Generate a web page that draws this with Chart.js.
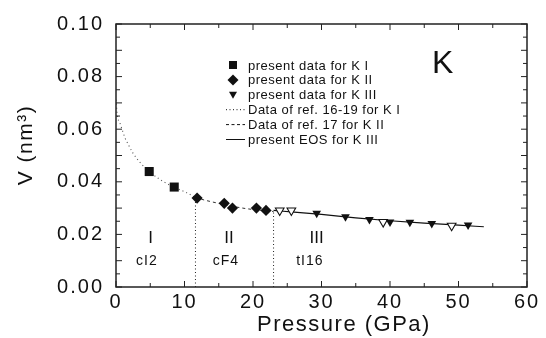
<!DOCTYPE html>
<html><head><meta charset="utf-8">
<script src="https://cdn.jsdelivr.net/npm/chart.js@4"></script>
<style>html,body{margin:0;padding:0;background:#fff}#wrap{width:546px;height:338px}</style>
</head><body><div id="wrap"><canvas id="c" width="546" height="338"></canvas></div>
<script>
// ---- data (pressure in GPa, volume in nm^3) ----
const k1P = [4.85, 8.5];
const k1V = [0.0439, 0.0380];
const k2P = [11.84, 15.8, 17.0, 20.5, 21.9];
const k2V = [0.0338, 0.0318, 0.0300, 0.0300, 0.0291];
const k3P = [29.3, 33.5, 37.0, 40.0, 42.9, 46.1, 51.4];
const k3V = [0.0280, 0.0267, 0.0257, 0.0247, 0.0246, 0.0241, 0.0236];
const k3OpenP = [23.9, 25.6, 39.0, 49.0];
const k3OpenV = [0.0291, 0.0291, 0.0247, 0.0233];
const ref1P = [0, 0.19, 0.58, 0.98, 1.31, 1.79, 2.43, 3.5, 4.85, 6.41, 8.5, 10.54, 11.6];
const ref1V = [0.0712, 0.0654, 0.0623, 0.0592, 0.0567, 0.0542, 0.0511, 0.0474, 0.0439, 0.0409, 0.0379, 0.0356, 0.0340];
const ref2P = [11.6, 13, 15, 17, 19, 21, 23];
const ref2V = [0.0340, 0.0330, 0.0318, 0.0307, 0.0298, 0.0292, 0.0287];
const eosP = [23, 26, 30, 35, 40, 45, 50, 53.7];
const eosV = [0.0291, 0.0285, 0.0276, 0.0263, 0.0252, 0.0243, 0.0235, 0.0229];
const boundaryP = [11.6, 23.0];
const boundaryTopV = [0.0335, 0.0290];
const xTickLabels = [0, 10, 20, 30, 40, 50, 60];
const yTickLabels = [0.00, 0.02, 0.04, 0.06, 0.08, 0.10];
const legendLabels = ['present data for K I', 'present data for K II', 'present data for K III',
  'Data of ref. 16-19 for K I', 'Data of ref. 17 for K II', 'present EOS for K III'];
const phaseTexts = ['I', 'cI2', 'II', 'cF4', 'III', 'tI16', 'K'];
const phaseTextP = [5.05, 4.5, 16.5, 16.05, 29.3, 28.3, 47.7];
const phaseTextV = [0.0185, 0.0097, 0.0185, 0.0097, 0.0185, 0.0097, 0.0847];

const pts = (xs, ys) => xs.map((x, i) => ({x, y: ys[i]}));
const FONT = '"Liberation Sans", Arial, Helvetica, sans-serif';
const INK = '#111';

const datasets = [
  {label: legendLabels[0], data: pts(k1P, k1V), pointStyle: 'rect', pointRadius: 6.4, backgroundColor: INK, borderColor: INK, borderWidth: 0, showLine: false, order: 1},
  {label: legendLabels[1], data: pts(k2P, k2V), pointStyle: 'rectRot', pointRadius: 5.6, backgroundColor: INK, borderColor: INK, borderWidth: 0, showLine: false, order: 1},
  {label: legendLabels[2], data: pts(k3P, k3V), pointStyle: 'triangle', pointRotation: 180, pointRadius: 5, backgroundColor: INK, borderColor: INK, borderWidth: 0, showLine: false, order: 1},
  {label: 'open', data: pts(k3OpenP, k3OpenV), pointStyle: 'triangle', pointRotation: 180, pointRadius: 5, backgroundColor: '#fff', borderColor: INK, borderWidth: 1.1, showLine: false, order: 1},
  {label: legendLabels[3], data: pts(ref1P, ref1V), showLine: true, pointRadius: 0, borderColor: '#555', borderWidth: 1.1, borderDash: [1, 3], cubicInterpolationMode: 'monotone', order: 2},
  {label: legendLabels[4], data: pts(ref2P, ref2V), showLine: true, pointRadius: 0, borderColor: '#333', borderWidth: 1, borderDash: [3, 3], cubicInterpolationMode: 'monotone', order: 2},
  {label: legendLabels[5], data: pts(eosP, eosV), showLine: true, pointRadius: 0, borderColor: INK, borderWidth: 1.2, cubicInterpolationMode: 'monotone', order: 2},
  ...boundaryP.map((p, i) => ({label: 'boundary' + i, data: [{x: p, y: 0}, {x: p, y: boundaryTopV[i]}], showLine: true, pointRadius: 0, borderColor: '#222', borderWidth: 1, borderDash: [1, 2.5], order: 2}))
];

function drawMarker(ctx, kind, x, y) {
  ctx.beginPath();
  if (kind === 0) { ctx.rect(x - 4, y - 4, 8, 8); }
  else if (kind === 1) { ctx.moveTo(x, y - 5.5); ctx.lineTo(x + 5.5, y); ctx.lineTo(x, y + 5.5); ctx.lineTo(x - 5.5, y); ctx.closePath(); }
  else { ctx.moveTo(x - 4, y - 3); ctx.lineTo(x + 4, y - 3); ctx.lineTo(x, y + 4); ctx.closePath(); }
  ctx.fillStyle = INK; ctx.fill();
}

const deco = {
  id: 'deco',
  beforeDraw(chart) { chart.ctx.letterSpacing = '2px'; },
  afterDraw(chart) {
    const {ctx, chartArea: a, scales: {x, y}} = chart;
    ctx.save();
    ctx.letterSpacing = '0px';
    // frame
    ctx.strokeStyle = '#222'; ctx.lineWidth = 1.5;
    ctx.strokeRect(a.left, a.top, a.right - a.left, a.bottom - a.top);
    // inward ticks on all sides
    ctx.lineWidth = 1;
    x.ticks.forEach(t => {
      const px = x.getPixelForValue(t.value);
      const L = Math.round(t.value) % 10 === 0 ? 6 : 4;
      ctx.beginPath(); ctx.moveTo(px, a.bottom); ctx.lineTo(px, a.bottom - L);
      ctx.moveTo(px, a.top); ctx.lineTo(px, a.top + L); ctx.stroke();
    });
    y.ticks.forEach(t => {
      const py = y.getPixelForValue(t.value);
      const L = Math.round(t.value * 1000) % 10 === 0 ? 6 : 4;
      ctx.beginPath(); ctx.moveTo(a.left, py); ctx.lineTo(a.left + L, py);
      ctx.moveTo(a.right, py); ctx.lineTo(a.right - L, py); ctx.stroke();
    });
    // phase labels and element symbol
    ctx.fillStyle = INK; ctx.textAlign = 'center'; ctx.textBaseline = 'middle';
    phaseTexts.forEach((s, i) => {
      const isK = s === 'K', isSub = i % 2 === 1 && !isK;
      ctx.font = (isK ? '32px ' : isSub ? '14px ' : '17px ') + FONT;
      ctx.letterSpacing = isSub ? '1px' : '0px';
      ctx.fillText(s, x.getPixelForValue(phaseTextP[i]), y.getPixelForValue(phaseTextV[i]));
    });
    // legend
    ctx.letterSpacing = '0.5px';
    ctx.font = '13px ' + FONT; ctx.textAlign = 'left';
    const lx = 233, tx = 248, ly0 = 65, dy = 14.9;
    legendLabels.forEach((s, i) => {
      const ly = ly0 + i * dy;
      if (i < 3) drawMarker(ctx, i, lx, ly);
      else {
        ctx.save(); ctx.strokeStyle = INK; ctx.lineWidth = 1;
        ctx.setLineDash(i === 3 ? [1, 2.5] : i === 4 ? [3, 2.5] : []);
        ctx.beginPath(); ctx.moveTo(226, ly); ctx.lineTo(245, ly); ctx.stroke(); ctx.restore();
      }
      ctx.fillStyle = INK; ctx.fillText(s, tx, ly + 1);
    });
    // axis titles
    ctx.letterSpacing = '1.5px';
    ctx.font = '22px ' + FONT; ctx.textAlign = 'center';
    ctx.fillText('Pressure (GPa)', 344, 325);
    ctx.save(); ctx.translate(26, 145); ctx.rotate(-Math.PI / 2);
    ctx.letterSpacing = '1.5px'; ctx.font = '21px ' + FONT;
    ctx.fillText('V (nm³)', 0, 0); ctx.restore();
    ctx.restore();
  }
};

new Chart(document.getElementById('c'), {
  type: 'scatter',
  data: {datasets},
  options: {
    responsive: false, animation: false, devicePixelRatio: 1,
    layout: {padding: {left: 0, right: 19, top: 19, bottom: 0}},
    plugins: {legend: {display: false}, tooltip: {enabled: false}},
    scales: {
      x: {
        type: 'linear', min: 0, max: 60,
        afterFit: s => { s.height = 51; },
        grid: {display: false, drawTicks: false}, border: {display: false},
        ticks: {stepSize: 5, autoSkip: false, maxRotation: 0, padding: 3, color: INK,
          font: {family: FONT, size: 20},
          callback: v => xTickLabels.includes(v) ? String(v) : ''}
      },
      y: {
        type: 'linear', min: 0, max: 0.10,
        afterFit: s => { s.width = 116; },
        grid: {display: false, drawTicks: false}, border: {display: false},
        ticks: {stepSize: 0.005, autoSkip: false, padding: 12, color: INK,
          font: {family: FONT, size: 20},
          callback: v => yTickLabels.some(t => Math.abs(t - v) < 1e-9) ? v.toFixed(2) : ''}
      }
    }
  },
  plugins: [deco]
});
</script>
</body></html>
